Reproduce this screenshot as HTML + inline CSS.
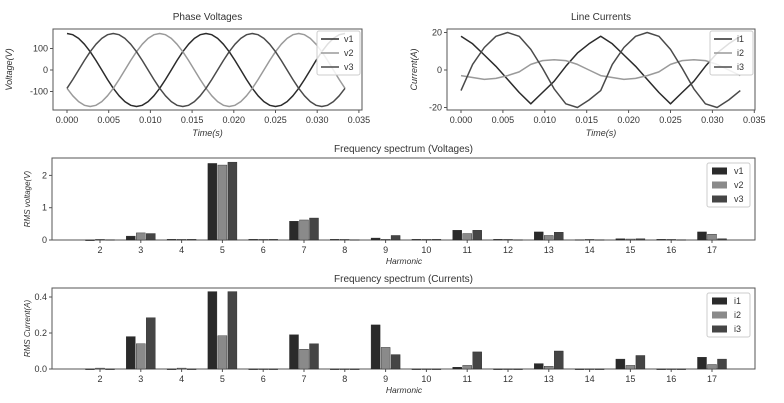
<!DOCTYPE html>
<html><head><meta charset="utf-8">
<style>
html,body{margin:0;padding:0;background:#fff;}
svg{display:block;font-family:"Liberation Sans","DejaVu Sans",sans-serif;}
</style></head>
<body>
<svg id="c" width="784" height="403" viewBox="0 0 784 403"></svg>
<script>
// ---- time-domain data ----
const tStep = 1/60/24;
const v1 = [170,164,147,120,85,44,0,-44,-85,-120,-147,-164,-170,-164,-147,-120,-85,-44,0,44,85,120,147,164,170,164,147,120,85,44,0,-44,-85,-120,-147,-164,-170,-164,-147,-120,-85,-44,0,44,85,120,147,164,170];
const v2 = [-85,-120,-147,-164,-170,-164,-147,-120,-85,-44,0,44,85,120,147,164,170,164,147,120,85,44,0,-44,-85,-120,-147,-164,-170,-164,-147,-120,-85,-44,0,44,85,120,147,164,170,164,147,120,85,44,0,-44,-85];
const v3 = [-85,-44,0,44,85,120,147,164,170,164,147,120,85,44,0,-44,-85,-120,-147,-164,-170,-164,-147,-120,-85,-44,0,44,85,120,147,164,170,164,147,120,85,44,0,-44,-85,-120,-147,-164,-170,-164,-147,-120,-85];
const iStep = 1/60/12;
const i1 = [18,14,8,2,-5,-12,-18,-12,-6,2,9,14,18,14,8,2,-5,-12,-18,-12,-6,2,9,14,18];
const i2 = [-3,-4,-5,-4.5,-3,-1,3,5,5.5,5,3,0,-3,-4,-5,-4.5,-3,-1,3,5,5.5,5,3,0,-3];
const i3 = [-11,3,12,18,20,18,11,1,-10,-18,-20,-16,-11,3,12,18,20,18,11,1,-10,-18,-20,-16,-11];
const timeTicks = ["0.000","0.005","0.010","0.015","0.020","0.025","0.030","0.035"];
// ---- spectrum data ----
const harmonics = [2,3,4,5,6,7,8,9,10,11,12,13,14,15,16,17];
const sv1 = [0,0.12,0.02,2.37,0.02,0.58,0.02,0.06,0.02,0.3,0.02,0.25,0.01,0.04,0.02,0.25];
const sv2 = [0.02,0.22,0.02,2.32,0.02,0.62,0.02,0.02,0.02,0.2,0.02,0.14,0.02,0.03,0.02,0.18];
const sv3 = [0.01,0.2,0.02,2.41,0.02,0.68,0.01,0.14,0.02,0.3,0.01,0.24,0.01,0.04,0.01,0.04];
const si1 = [0,0.18,0,0.43,0,0.19,0,0.245,0,0.01,0,0.03,0,0.055,0,0.065];
const si2 = [0.005,0.14,0.005,0.185,0,0.11,0,0.12,0,0.02,0,0.015,0,0.02,0,0.025];
const si3 = [0,0.285,0,0.43,0,0.14,0,0.08,0,0.095,0,0.1,0,0.075,0,0.055];
const voltTicks = [0,1,2];
const curTicks = [0,0.2,0.4];

const NS="http://www.w3.org/2000/svg";
const svg=document.getElementById('c');
function el(tag,attrs,parent,text){const e=document.createElementNS(NS,tag);for(const k in attrs)e.setAttribute(k,attrs[k]);if(text!==undefined)e.textContent=text;(parent||svg).appendChild(e);return e;}
const C1='#2b2b2b',C2='#9a9a9a',C3='#4a4a4a';
const B1='#2a2a2a',B2='#8a8a8a',B3='#454545';

function frame(x0,y0,x1,y1,name){
  const r=el('rect',{x:x0,y:y0,width:x1-x0,height:y1-y0,fill:'none',stroke:'#555','stroke-width':1});
  
  
}
function text(x,y,s,name,opts){
  const t=el('text',Object.assign({x:x,y:y,'font-size':9,fill:'#333','text-anchor':'middle'},opts||{}),svg,s);
  
  
  return t;
}
function legend(x,y,w,labels,colors,isLine,name){
  const g=el('g',{});
  
  
  el('rect',{x:x,y:y,width:w,height:44,fill:'#fff','fill-opacity':0.85,stroke:'#ccc',rx:2},g);
  labels.forEach((l,k)=>{
    const yy=y+8+k*14;
    if(isLine) el('line',{x1:x+4,x2:x+22,y1:yy,y2:yy,stroke:colors[k],'stroke-width':1.6},g);
    else el('rect',{x:x+5,y:yy-3.5,width:15,height:7,fill:colors[k]},g);
    const t=el('text',{x:x+27,y:yy+3,'font-size':9,fill:'#333'},g,l);
    
    
  });
}

// ---- time plots ----
function timePlot(o){
  frame(o.L,o.T,o.R,o.B,o.name+'-axes');
  const xs=t=>o.x0+(t/0.005)*o.xd;
  const ys=v=>o.yz-v*o.yk;
  timeTicks.forEach(s=>{
    const x=xs(parseFloat(s));
    el('line',{x1:x,x2:x,y1:o.B,y2:o.B+3,stroke:'#555'});
    text(x,o.B+13,s,o.name+'-x-tick');
  });
  o.yt.forEach(v=>{
    const y=ys(v);
    el('line',{x1:o.L-3,x2:o.L,y1:y,y2:y,stroke:'#555'});
    text(o.L-5,y+3,String(v),o.name+'-y-tick',{'text-anchor':'end'});
  });
  o.series.forEach((s,k)=>{
    const pts=s.map((v,j)=>xs(j*o.step).toFixed(1)+','+ys(v).toFixed(1)).join(' ');
    const p=el('polyline',{points:pts,fill:'none',stroke:o.colors[k],'stroke-width':1.5,'stroke-linejoin':'round'});
    
    
  });
  text((o.L+o.R)/2,20,o.title,o.name+'-title',{'font-size':10});
  text((o.L+o.R)/2,136,'Time(s)','x-axis-title',{'font-style':'italic'});
  const yl=text(0,0,o.ylab,'y-axis-title',{'font-style':'italic','transform':'translate('+o.ylx+','+((o.T+o.B)/2)+') rotate(-90)'});
  legend(o.R-45,o.T+2,43,o.labels,o.colors,true,o.name+'-legend');
}
timePlot({name:'phase-voltages',L:53,R:362,T:29,B:110,x0:67,xd:41.7,yz:70,yk:0.215,step:tStep,yt:[100,0,-100],
  series:[v1,v2,v3],colors:[C1,C2,C3],labels:['v1','v2','v3'],title:'Phase Voltages',ylab:'Voltage(V)',ylx:12});
timePlot({name:'line-currents',L:447,R:755,T:29,B:110,x0:461,xd:41.9,yz:70,yk:1.875,step:iStep,yt:[20,0,-20],
  series:[i1,i2,i3],colors:[C1,C2,C3],labels:['i1','i2','i3'],title:'Line Currents',ylab:'Current(A)',ylx:417});

// ---- bar plots ----
function barPlot(o){
  frame(o.L,o.T,o.R,o.B,o.name+'-axes');
  const xs=h=>100+(h-2)*40.8;
  const ys=v=>o.B-v*o.yk;
  harmonics.forEach(h=>{
    const x=xs(h);
    el('line',{x1:x,x2:x,y1:o.B,y2:o.B+3,stroke:'#555'});
    text(x,o.B+13,String(h),o.name+'-x-tick');
  });
  o.yt.forEach(v=>{
    const y=ys(v);
    el('line',{x1:o.L-3,x2:o.L,y1:y,y2:y,stroke:'#555'});
    text(o.L-5,y+3,o.fmt(v),o.name+'-y-tick',{'text-anchor':'end'});
  });
  o.series.forEach((s,k)=>{
    s.forEach((v,j)=>{
      const cx=xs(harmonics[j])+(k-1)*10;
      const y=ys(v);
      const r=el('rect',{x:cx-4.5,y:y,width:9,height:Math.max(0.6,o.B-y),fill:o.colors[k],stroke:'#222','stroke-width':0.4});
      
      
    });
  });
  text((o.L+o.R)/2,o.titleY,o.title,o.name+'-title',{'font-size':10});
  text(404,o.B+24,'Harmonic','x-axis-title',{'font-style':'italic','font-size':8.5});
  text(0,0,o.ylab,'y-axis-title',{'font-style':'italic','font-size':8,'transform':'translate(30,'+((o.T+o.B)/2)+') rotate(-90)'});
  legend(707,o.T+5,43,o.labels,o.colors,false,o.name+'-legend');
}
barPlot({name:'voltage-spectrum',L:52,R:755,T:158,B:240,yk:32.3,yt:voltTicks,fmt:v=>String(v),
  series:[sv1,sv2,sv3],colors:[B1,B2,B3],labels:['v1','v2','v3'],title:'Frequency spectrum (Voltages)',ylab:'RMS voltage(V)',titleY:152});
barPlot({name:'current-spectrum',L:52,R:755,T:288,B:369,yk:180,yt:curTicks,fmt:v=>v.toFixed(1),
  series:[si1,si2,si3],colors:[B1,B2,B3],labels:['i1','i2','i3'],title:'Frequency spectrum (Currents)',ylab:'RMS Current(A)',titleY:282});
</script>
</body></html>
